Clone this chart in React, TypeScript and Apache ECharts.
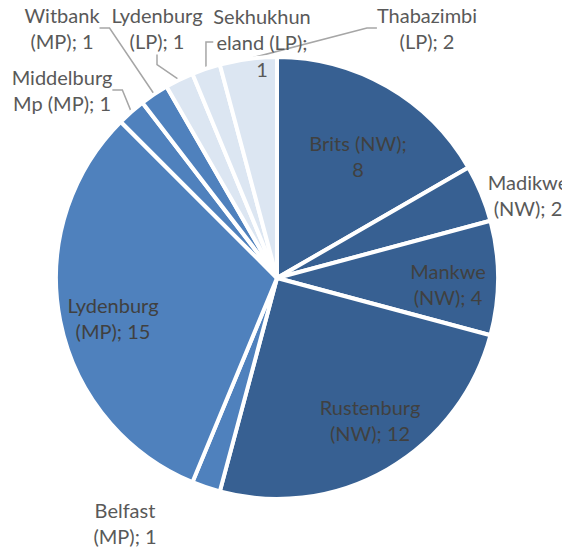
import React, { useEffect, useRef } from "react";
import * as echarts from "echarts";

const categories = [
  "Brits (NW)",
  "Madikwe (NW)",
  "Mankwe (NW)",
  "Rustenburg (NW)",
  "Belfast (MP)",
  "Lydenburg (MP)",
  "Middelburg Mp (MP)",
  "Witbank (MP)",
  "Lydenburg (LP)",
  "Sekhukhuneland (LP)",
  "Thabazimbi (LP)",
];
const values = [8, 2, 4, 12, 1, 15, 1, 1, 1, 1, 2];

const provinceColors: Record<string, string> = {
  NW: "#376092",
  MP: "#4f81bd",
  LP: "#dce6f2",
};

// label placement (centre of label block) and style per slice
const labelPos: [number, number][] = [
  [358, 156],
  [528, 195],
  [448, 284],
  [370, 420],
  [125, 523],
  [113, 318],
  [62, 90],
  [62, 28],
  [157, 28],
  [262, 42],
  [427, 28],
];
const insideIdx = [0, 2, 3, 5];
const lineIdx = [6, 7, 8, 9, 10];

const nameBreaks: Record<string, string[]> = {
  "Brits (NW)": ["Brits (NW);", ""],
  "Middelburg Mp (MP)": ["Middelburg", "Mp (MP);"],
  "Sekhukhuneland (LP)": ["Sekhukhun", "eland (LP);", ""],
};

function labelText(name: string, value: number): string {
  if (nameBreaks[name]) {
    const parts = nameBreaks[name];
    const last = parts.length - 1;
    return parts
      .map((p, i) => (i === last ? (p ? p + " " + value : String(value)) : p))
      .join("\n");
  }
  const i = name.indexOf(" (");
  return name.slice(0, i) + "\n" + name.slice(i + 1) + "; " + value;
}

export default function App() {
  const ref = useRef<HTMLDivElement>(null);
  useEffect(() => {
    const chart = echarts.init(ref.current!, null, { renderer: "svg" });
    const data = categories.map((name, i) => {
      const prov = name.slice(name.lastIndexOf("(") + 1, name.lastIndexOf(")"));
      const inside = insideIdx.includes(i);
      return {
        name,
        value: values[i],
        itemStyle: { color: provinceColors[prov] },
        label: {
          position: inside ? "inside" : "outside",
          color: inside ? "#404040" : "#595959",
        },
        labelLine: { show: lineIdx.includes(i) },
      };
    });
    chart.setOption({
      animation: false,
      series: [
        {
          type: "pie",
          center: [277, 278],
          radius: [0, 221],
          startAngle: 90,
          clockwise: true,
          avoidLabelOverlap: false,
          itemStyle: { borderColor: "#ffffff", borderWidth: 4 },
          label: {
            fontFamily: "Lato",
            fontSize: 20,
            lineHeight: 26.5,
            align: "center",
            formatter: (p: any) => labelText(p.name, p.value),
          },
          labelLine: {
            length: 15,
            length2: 10,
            lineStyle: { color: "#a6a6a6", width: 1.5 },
          },
          labelLayout: (params: any) => {
            const p = labelPos[params.dataIndex];
            return { x: p[0], y: p[1], align: "center", verticalAlign: "middle" };
          },
          emphasis: { disabled: true },
          data,
        },
      ],
    });
    return () => chart.dispose();
  }, []);
  return (
    <div
      ref={ref}
      style={{ position: "absolute", left: 0, top: 0, width: 562, height: 556 }}
    />
  );
}
